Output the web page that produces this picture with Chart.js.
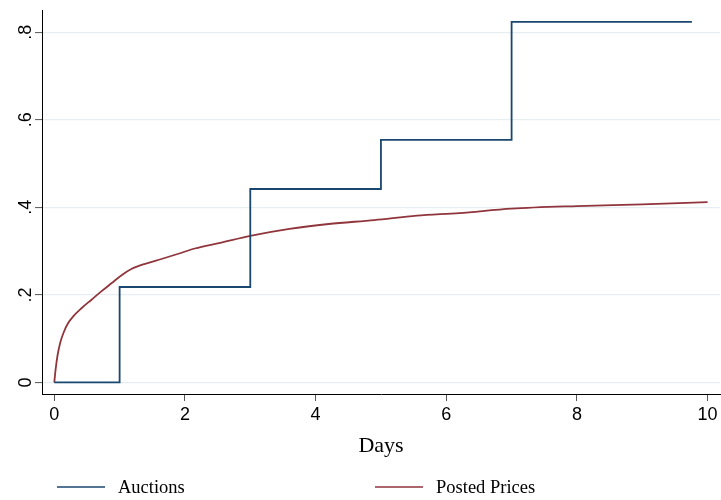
<!DOCTYPE html>
<html lang="en">
<head>
<meta charset="UTF-8">
<title>Auctions vs Posted Prices</title>
<script src="https://cdn.jsdelivr.net/npm/chart.js"></script>
<style>
    html, body { margin: 0; padding: 0; background: #fff; }
    canvas { display: block; }
</style>
</head>
<body>
<canvas id="chart" width="721" height="500"></canvas>
<script>
// share sold by day, auctions (step function)
const auctionDays = [0, 1, 3, 5, 7, 9.76];
const auctionShare = [0, 0.218, 0.442, 0.554, 0.824, 0.824];

// share sold by day, posted prices
const postedDays = [0, 0.02, 0.05, 0.09, 0.14, 0.21, 0.29, 0.42, 0.57, 0.72, 0.88, 1.03, 1.18, 1.39, 1.64, 1.9, 2.15, 2.54, 3.0, 3.6, 4.2, 4.9, 5.55, 6.2, 7.0, 8.0, 9.0, 10.0];
const postedShare = [0, 0.029, 0.062, 0.09, 0.113, 0.135, 0.151, 0.17, 0.189, 0.208, 0.227, 0.245, 0.259, 0.271, 0.282, 0.294, 0.306, 0.319, 0.335, 0.351, 0.362, 0.371, 0.381, 0.387, 0.397, 0.403, 0.407, 0.412];

const xTicks = [0, 2, 4, 6, 8, 10];
const yTicks = [0, 0.2, 0.4, 0.6, 0.8];
const yTickLabels = ['0', '.2', '.4', '.6', '.8'];
const seriesNames = ['Auctions', 'Posted Prices'];
const seriesColors = ['#1a476f', '#90353b'];

// legend drawn in two fixed columns like the Stata output
const legendX = [57, 375];
const bottomLegend = {
    id: 'bottomLegend',
    afterDraw(chart) {
        const ctx = chart.ctx;
        ctx.save();
        chart.data.datasets.forEach((ds, i) => {
            const x = legendX[i];
            ctx.strokeStyle = ds.borderColor;
            ctx.lineWidth = 1.6;
            ctx.beginPath();
            ctx.moveTo(x, 487);
            ctx.lineTo(x + 48, 487);
            ctx.stroke();
            ctx.fillStyle = '#000';
            ctx.font = '18.5px "Liberation Serif"';
            ctx.textBaseline = 'alphabetic';
            ctx.textAlign = 'left';
            ctx.fillText(ds.label, x + 61, 493);
        });
        ctx.restore();
    }
};

const tickFont = { family: 'Liberation Sans', size: 18 };

new Chart(document.getElementById('chart'), {
    type: 'line',
    data: {
        datasets: [
            {
                label: seriesNames[0],
                data: auctionDays.map((d, i) => ({ x: d, y: auctionShare[i] })),
                borderColor: seriesColors[0],
                borderWidth: 1.8,
                pointRadius: 0,
                stepped: 'before',
                fill: false
            },
            {
                label: seriesNames[1],
                data: postedDays.map((d, i) => ({ x: d, y: postedShare[i] })),
                borderColor: seriesColors[1],
                borderWidth: 1.8,
                pointRadius: 0,
                cubicInterpolationMode: 'monotone',
                fill: false
            }
        ]
    },
    options: {
        responsive: false,
        animation: false,
        devicePixelRatio: 1,
        layout: { padding: { top: 10, right: 1, bottom: 40, left: 0 } },
        plugins: {
            legend: { display: false },
            tooltip: { enabled: false }
        },
        scales: {
            x: {
                type: 'linear',
                min: -0.188,
                max: 10.19,
                afterBuildTicks: s => { s.ticks = xTicks.map(v => ({ value: v })); },
                afterFit: s => { s.height = 66; s.paddingLeft = 0; s.paddingRight = 0; },
                border: { color: '#000', width: 1 },
                grid: { drawOnChartArea: false, tickLength: 7, tickColor: '#555', tickWidth: 1 },
                ticks: {
                    font: tickFont, color: '#000', padding: 3,
                    maxRotation: 0, autoSkip: false,
                    callback: v => String(v)
                },
                title: {
                    display: true,
                    text: 'Days',
                    color: '#000',
                    font: { family: 'Liberation Serif', size: 22, lineHeight: 1 },
                    padding: { top: 0, bottom: 3 }
                }
            },
            y: {
                type: 'linear',
                min: -0.0265,
                max: 0.851,
                afterBuildTicks: s => { s.ticks = yTicks.map(v => ({ value: v })); },
                afterFit: s => { s.width = 42; s.paddingTop = 0; s.paddingBottom = 0; },
                border: { color: '#000', width: 1 },
                grid: { color: '#e6eef1', lineWidth: 1.2, tickLength: 7, tickColor: '#555', tickWidth: 1 },
                ticks: {
                    font: tickFont, color: '#000', padding: 1,
                    minRotation: 90, maxRotation: 90, crossAlign: 'center', autoSkip: false,
                    callback: v => yTickLabels[yTicks.indexOf(v)]
                }
            }
        }
    },
    plugins: [bottomLegend]
});
</script>
</body>
</html>
